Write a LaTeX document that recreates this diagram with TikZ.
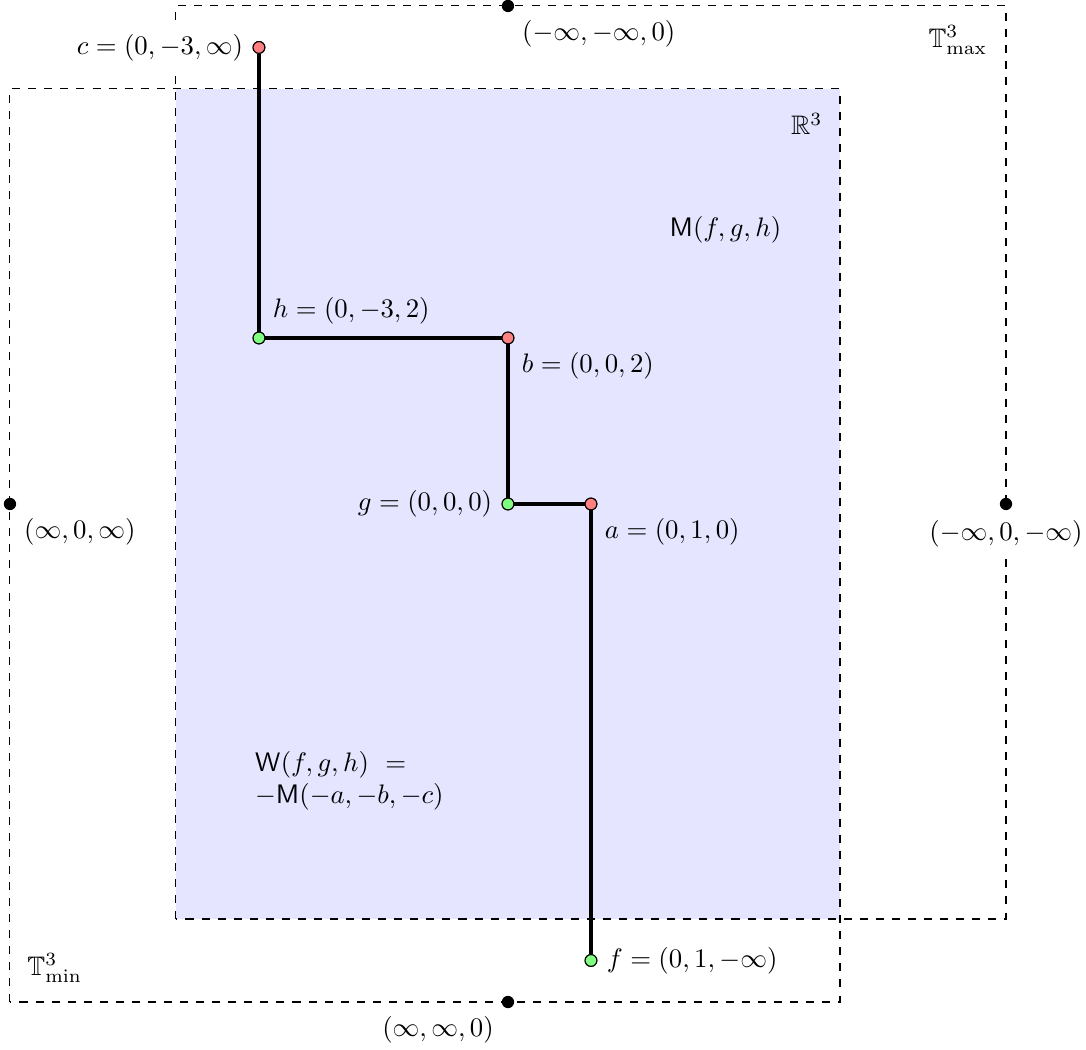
\documentclass[tikz,border=0pt]{standalone}
\usepackage{amssymb}
\begin{document}
\begin{tikzpicture}[x=1.09cm, y=1.09cm,
  pt/.style={circle, draw=black, inner sep=0pt, minimum size=4.4pt},
  redpt/.style={pt, fill=red!50},
  greenpt/.style={pt, fill=green!50},
  blackpt/.style={circle, fill=black, inner sep=0pt, minimum size=4.6pt},
  chainline/.style={line width=1.2pt},
  region/.style={draw, dashed},
  masklabel/.style={fill=white}
]
\useasboundingbox (-6.12,-6.578) rectangle (6.964,6.072);
% R^3 region
\fill[blue!10] (-4,-5) rectangle (4,5);
% tropical boxes
\draw[region] (-4,-5) rectangle (6,6);
\draw[region] (-6,-6) rectangle (4,5);

% points
\node[redpt, label={[masklabel]left:$c=(0,-3,\infty)$}] (c) at (-3,5.5) {};
\node[greenpt, label={above right:$h=(0,-3,2)$}] (h) at (-3,2) {};
\node[redpt, label={below right:$b=(0,0,2)$}] (b) at (0,2) {};
\node[greenpt, label={left:$g=(0,0,0)$}] (g) at (0,0) {};
\node[redpt, label={below right:$a=(0,1,0)$}] (a) at (1,0) {};
\node[greenpt, label={right:$f=(0,1,-\infty)$}] (f) at (1,-5.5) {};

\draw[chainline] (c) -- (h) -- (b) -- (g) -- (a) -- (f);
\node[redpt] at (c) {};
\node[greenpt] at (h) {};
\node[redpt] at (b) {};
\node[greenpt] at (g) {};
\node[redpt] at (a) {};
\node[greenpt] at (f) {};

% boundary points
\node[blackpt, label={below right:$(-\infty,-\infty,0)$}] (top) at (0,6) {};
\node[blackpt, label={below right:$(\infty,0,\infty)$}] (left) at (-6,0) {};
\node[blackpt, label={[masklabel]below:$(-\infty,0,-\infty)$}] (right) at (6,0) {};
\node[blackpt, label={below left:$(\infty,\infty,0)$}] (bottom) at (0,-6) {};

% region labels
\node (tmax) at (5.42,5.59) {$\mathbb{T}^3_{\max}$};
\node (tmin) at (-5.46,-5.59) {$\mathbb{T}^3_{\min}$};
\node (r3) at (3.6,4.58) {$\mathbb{R}^3$};
\node (M) at (2.62,3.3) {$\mathsf{M}(f,g,h)$};
\node[anchor=west, align=left] (W) at (-3.16,-3.34) {$\mathsf{W}(f,g,h)\ =$\\$-\mathsf{M}(-a,-b,-c)$};
\end{tikzpicture}
\end{document}
